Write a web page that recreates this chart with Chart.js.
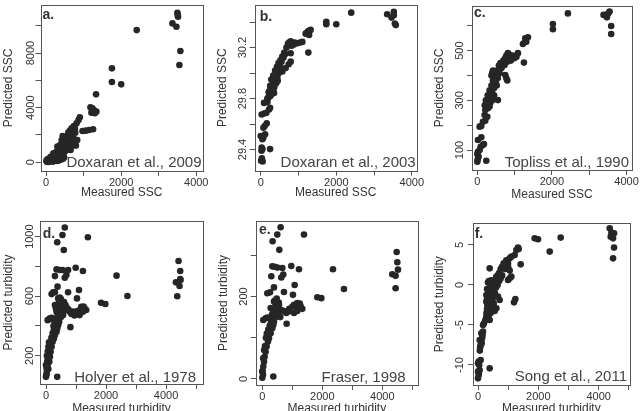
<!DOCTYPE html>
<html>
<head>
<meta charset="utf-8">
<script src="https://cdn.jsdelivr.net/npm/chart.js@4.4.1/dist/chart.umd.min.js"></script>
<style>
  html, body { margin: 0; padding: 0; background: #fff; overflow: hidden; }
  body { width: 642px; height: 411px; position: relative; }
  canvas { position: absolute; }
</style>
</head>
<body>
<canvas id="pa" width="214" height="205" style="left:0;top:0"></canvas>
<canvas id="pb" width="214" height="205" style="left:214px;top:0"></canvas>
<canvas id="pc" width="214" height="205" style="left:428px;top:0"></canvas>
<canvas id="pd" width="214" height="220" style="left:0;top:205px"></canvas>
<canvas id="pe" width="214" height="220" style="left:214px;top:205px"></canvas>
<canvas id="pf" width="214" height="220" style="left:428px;top:205px"></canvas>
<script>
// measured vs predicted, one array of [measured, predicted] per model
const panelA = [
  [2414,9683],[3366,10171],[3471,9927],[3498,10951],[3507,10780],[3515,10659],[3577,8146],[3551,7122],
  [1753,6878],[1753,5878],[2000,5707],[1330,4976],
  [1181,4024],[1233,3951],[1269,3829],[1207,3634],[1295,3585],[1339,3707],
  [1251,2415],[1145,2366],[1057,2317],[969,2293],
  [899,3293],[863,3098],[811,2854],[740,2659],[678,2488],[767,2488],[634,2317],[590,2171],
  [793,1220],[828,1634],[722,1878],[634,1756],[546,1829],[441,1927],[414,1634],[502,1439],[590,1341],[678,1146],
  [370,1268],[326,1024],[458,1024],[546,902],[282,780],[414,659],[194,659],[238,415],[150,415],[106,293],
  [62,171],[18,73],[35,122],[88,122],[150,171],[194,220],[282,293],[370,415],[458,537],[326,610],
  [238,220],[176,49],[62,24],[123,73],[502,780],[590,1024],[652,902],[722,1512],[300,1146],[388,1146],
  [476,1268],[529,1634],[617,2000],[678,2122],[775,2171],[705,2317],
  [20,30],[40,60],[80,200],[100,100],[130,250],[160,350],[200,450],[250,550],[280,500],[220,300],
  [120,400],[60,250],[30,200],[10,120],[300,100],[350,150],[400,200],[450,250],[250,120],[200,80],[480,350]
];
const panelB = [
  [2396,30.475],[3348,30.462],[3463,30.436],[3524,30.481],[3524,30.455],[3551,30.39],[3577,30.377],
  [1736,30.403],[1736,30.384],[2000,30.384],
  [1189,30.31],[1233,30.32],[1260,30.33],[1300,30.335],[1321,30.34],[1280,30.30],[1260,30.161],
  [749,30.24],[793,30.25],[850,30.235],[900,30.24],[970,30.235],[1040,30.24],[1101,30.245],[770,30.22],
  [820,30.215],[880,30.225],[720,30.23],[793,30.156],
  [176,29.80],[220,29.82],[264,29.83],[300,29.84],[335,29.87],[352,29.844],
  [264,29.883],[300,29.9],[350,29.92],[400,29.95],[440,29.97],[480,30.0],[529,30.04],
  [320,29.93],[370,29.96],[420,29.98],[460,30.02],[500,30.06],[550,30.09],[600,30.12],[650,30.15],
  [280,29.95],[330,29.98],[380,30.02],[430,30.05],[470,30.08],[520,30.1],[570,30.13],[620,30.16],[680,30.2],
  [573,30.013],[660,30.04],[740,30.07],[793,30.09],[250,29.9],[230,29.86],[210,29.85],[360,29.89],[410,29.92],[450,29.94],
  [10,29.311],[30,29.33],[50,29.306],[20,29.39],[45,29.403],[25,29.416],[247,29.403],[0,29.506],[70,29.494],
  [115,29.519],[45,29.481],[70,29.571],[105,29.584],[158,29.605],[25,29.675],[88,29.683],[150,29.688],
  [88,29.766],[176,29.774],[247,29.727],[220,29.714],[194,29.805],[247,29.818],[282,29.831]
];
const panelC = [
  [2429,650],[3384,644],[3473,634],[3545,657],[3500,648],[3589,599],[3589,567],[2027,607],[2027,586],
  [1250,452],[1223,527],[1268,534],[1313,536],[1286,550],[1357,554],
  [732,442],[800,455],[870,470],[950,480],[1089,490],[780,480],[820,490],[750,470],[900,460],[1000,470],
  [1050,475],[700,460],[850,485],[750,402],[780,389],[804,380],
  [0,53],[10,62],[36,73],[241,57],[18,93],[63,100],[0,84],[90,113],[18,140],[107,151],[152,120],[179,124],
  [63,194],[107,197],[152,214],[214,218],[196,241],[268,234],[214,261],[286,268],[330,275],
  [250,290],[300,300],[350,310],[400,330],[450,350],[500,370],[550,390],[600,410],[650,430],
  [200,280],[230,300],[280,320],[330,340],[380,360],[420,380],[480,400],[530,420],[580,440],[620,450],
  [350,290],[400,300],[450,320],[553,301],[520,360],[450,390],[400,410],[420,420],[380,400]
];
const panelD = [
  [626,1061],[549,1011],[374,962],[593,910],[1396,996],[989,791],[352,780],[462,776],[549,776],[736,776],
  [681,742],[626,724],[297,735],[1231,769],[2352,738],[2714,601],[1835,556],[1978,547],[385,664],[736,626],
  [1099,641],[187,614],[242,626],[297,626],[1033,585],[813,392],[374,58],
  [4418,836],[4473,769],[4473,715],[4330,693],[4484,709],[4451,668],[4374,599],
  [0,58],[22,80],[77,110],[0,137],[55,137],[110,159],[132,193],[154,226],[187,260],[220,294],[264,316],
  [297,339],[352,361],[374,383],[407,406],[440,428],[370,450],
  [55,439],[132,451],[187,455],[100,445],
  [30,100],[60,180],[90,220],[120,250],[150,280],[180,320],[220,350],[260,370],[300,390],[330,410],
  [360,430],[390,470],[410,490],[250,400],[280,430],
  [10,70],[20,120],[40,160],[30,200],[60,230],[80,260],[100,290],
  [462,540],[516,552],[571,529],[626,518],[681,507],[791,496],[901,496],[1011,484],[1121,473],[1231,496],
  [1286,518],[1341,507],[1176,529],[407,585],[440,563],[484,518],[549,496],[571,473],[297,540],[330,518],[352,496],
  [400,470],[430,500],[470,480],[500,460],[520,500],[560,540],[600,560],[650,540],[700,520],[750,510],
  [850,480],[950,470],[1050,500],[1150,510],[1250,530],[380,520],[420,550],[460,590],[500,580]
];
const panelE = [
  [611,368],[500,350],[344,334],[567,313],[1389,350],[967,274],[333,273],[411,272],[500,270],[667,269],
  [700,253],[633,246],[300,249],[1222,266],[2356,266],[2722,218],[1833,198],[1967,196],[389,222],[722,211],
  [1078,228],[167,208],[256,210],[1022,204],[811,134],[367,6],
  [4478,308],[4500,283],[4522,265],[4333,254],[4444,250],[4444,220],
  [0,3],[22,10],[0,18],[33,30],[56,42],[78,54],[111,66],[144,79],[189,91],[222,99],[278,111],[333,123],
  [367,131],[389,139],[33,143],[111,147],[167,149],
  [10,20],[30,50],[60,70],[90,80],[120,100],[150,110],[200,120],[250,130],[280,145],[320,155],[350,160],[300,140],
  [444,180],[500,172],[611,168],[722,164],[889,164],[1056,160],[1167,165],[1278,176],[1333,170],[389,188],
  [367,164],[278,172],[556,180],[1056,180],[1167,184],
  [400,155],[450,150],[520,160],[600,150],[700,165],[800,160],[900,170],[1000,175],[1100,178],[1250,183],
  [420,190],[480,195],[550,185]
];
const panelF = [
  [4365,7.08],[4420,6.54],[4398,6.04],[4475,5.83],[4508,6.46],[4508,4.67],[4475,3.33],[1878,5.83],[1989,5.71],
  [2740,5.92],[2376,4.17],[1414,2.58],
  [1326,4.67],[1348,4.5],[1271,4.38],[1215,3.75],[1105,3.54],[1050,3.33],[387,2.08],[939,3.1],[995,2.7],
  [884,2.5],[1050,0.83],[995,0.63],[1105,1.04],[1238,-1.75],[1193,-2.17],[663,-1.46],[718,-1.88],[608,-2.92],
  [552,-3.25],[387,-4.38],[387,-10.42],
  [0,-11.67],[22,-11.25],[0,-10.83],[55,-10.63],[22,-9.58],[88,-9.38],[0,-9.79],[88,-7.5],[110,-7.08],
  [133,-6.67],[55,-6.88],[110,-6.04],[166,-5.83],[199,-4.79],[166,-5.0],[243,-4.38],[276,-3.96],[309,-3.54],
  [331,-2.92],[309,-2.5],[276,-2.08],[331,-1.67],[387,-1.25],[276,-1.25],
  [30,-11.0],[60,-8.2],[70,-7.8],[120,-7.3],[40,-10.0],[150,-6.3],
  [280,-3.5],[300,-3.0],[320,-2.0],[350,-1.5],[380,-2.5],[400,-3.0],[420,-1.0],[450,-0.5],[480,0],[500,-1.5],
  [520,-0.8],[550,0.2],[580,0.5],[600,1.0],[650,1.2],[700,1.5],[750,2.0],[800,2.3],[850,2.7],[300,-0.5],
  [330,0.3],[360,0.5],[400,0.2],[440,0.6],[330,-3.8],[350,-4.0],[420,-3.5],[450,-2.5],[480,-2.0],[520,-2.3],
  [560,-1.0],[600,-0.3],[650,0],[700,0.5],[750,0.8],[800,1.2],[900,2.0],[1000,2.2],[1050,1.8],[380,-0.8],
  [420,-2.0],[460,-1.2],[500,0.5],[350,-3.2],[300,-1.8]
];

// tick marks and the ones that carry a label
const sscTicks = [0, 1000, 2000, 3000, 4000];
const sscLabels = [0, 2000, 4000];
const turbTicks = [0, 1000, 2000, 3000, 4000, 5000];
const turbLabels = [0, 2000, 4000];
const aTicks = [0, 2000, 4000, 6000, 8000, 10000];
const aLabels = [0, 4000, 8000];
const bTicks = [29.4, 29.6, 29.8, 30.0, 30.2, 30.4];
const bLabels = [29.4, 29.8, 30.2];
const cTicks = [100, 200, 300, 400, 500, 600];
const cLabels = [100, 300, 500];
const dTicks = [200, 400, 600, 800, 1000];
const dLabels = [200, 600, 1000];
const eTicks = [0, 100, 200, 300];
const eLabels = [0, 200];
const fTicks = [-10, -5, 0, 5];
const fLabels = [-10, -5, 0, 5];

const FONT = "'Liberation Sans', Arial, sans-serif";
const INK = '#262626';
const TEXT = '#333333';
const NOTE = '#444444';
const FRAME = '#555555';

const panels = [
  { id: 'pa', points: panelA, letter: 'a.', source: 'Doxaran et al., 2009', xTitle: 'Measured SSC', yTitle: 'Predicted SSC',
    xTicks: sscTicks, xLabels: sscLabels, yTicks: aTicks, yLabels: aLabels,
    xMin: -150, xMax: 4180, yMin: -640, yMax: 11520,
    box: { l: 40.5, r: 203, t: 5, b: 171 }, yGap: 7, yTitlePad: 1.1, xTitlePad: 4.8,
    letterX: 2, letterY: 13.5, sourceX: 1.5, sourceY: 4 },
  { id: 'pb', points: panelB, letter: 'b.', source: 'Doxaran et al., 2003', xTitle: 'Measured SSC', yTitle: 'Predicted SSC',
    xTicks: sscTicks, xLabels: sscLabels, yTicks: bTicks, yLabels: bLabels,
    xMin: -160, xMax: 4130, yMin: 29.235, yMax: 30.535,
    box: { l: 40.7, r: 202.7, t: 5, b: 170.5 }, yGap: 8.4, yTitlePad: 1.5, xTitlePad: 4.8,
    letterX: 5, letterY: 15.5, sourceX: 1, sourceY: 3.5 },
  { id: 'pc', points: panelC, letter: 'c.', source: 'Topliss et al., 1990', xTitle: 'Measured SSC', yTitle: 'Predicted SSC',
    xTicks: sscTicks, xLabels: sscLabels, yTicks: cTicks, yLabels: cLabels,
    xMin: -142, xMax: 4147, yMin: 19.5, yMax: 681,
    box: { l: 44, r: 204, t: 5.7, b: 170 }, yGap: 9, yTitlePad: 4.8, xTitlePad: 2.8,
    letterX: 2, letterY: 11.6, sourceX: 3, sourceY: 3 },
  { id: 'pd', points: panelD, letter: 'd.', source: 'Holyer et al., 1978', xTitle: 'Measured turbidity', yTitle: 'Predicted turbidity',
    xTicks: turbTicks, xLabels: turbLabels, yTicks: dTicks, yLabels: dLabels,
    xMin: -200, xMax: 5233, yMin: 10, yMax: 1105,
    box: { l: 40, r: 203, t: 16, b: 179 }, yGap: 6.7, yTitlePad: 1.1, xTitlePad: 9,
    letterX: 2.7, letterY: 16.7, sourceX: 7, sourceY: 2.5 },
  { id: 'pe', points: panelE, letter: 'e.', source: 'Fraser, 1998', xTitle: 'Measured turbidity', yTitle: 'Predicted turbidity',
    xTicks: turbTicks, xLabels: turbLabels, yTicks: eTicks, yLabels: eLabels,
    xMin: -220, xMax: 5190, yMin: -14.6, yMax: 383,
    box: { l: 41.7, r: 204, t: 16, b: 180 }, yGap: 8.4, yTitlePad: 2.8, xTitlePad: 9,
    letterX: 3.3, letterY: 13.3, sourceX: 12.3, sourceY: 3.5 },
  { id: 'pf', points: panelF, letter: 'f.', source: 'Song et al., 2011', xTitle: 'Measured turbidity', yTitle: 'Predicted turbidity',
    xTicks: turbTicks, xLabels: fLabels === null ? [] : turbLabels, yTicks: fTicks, yLabels: fLabels,
    xMin: -166, xMax: 5027, yMin: -12.5, yMax: 7.71,
    box: { l: 45, r: 201.7, t: 18.3, b: 180 }, yGap: 10, yTitlePad: 4.8, xTitlePad: 9,
    letterX: 1.7, letterY: 15, sourceX: 2.7, sourceY: 4 }
];

function hasLabel(list, v) {
  return list.some(l => Math.abs(l - v) < 1e-9);
}

// box, rotated y labels, panel letter and source text
function decorate(p) {
  return {
    id: 'decorate',
    afterDraw(chart) {
      const ctx = chart.ctx;
      const a = chart.chartArea;
      const ys = chart.scales.y;
      ctx.save();
      ctx.strokeStyle = FRAME;
      ctx.lineWidth = 1;
      const l = Math.round(a.left), t = Math.round(a.top);
      ctx.strokeRect(l + 0.5, t + 0.5, Math.round(a.right) - l, Math.round(a.bottom) - t);

      ctx.fillStyle = TEXT;
      ctx.font = '11px ' + FONT;
      ctx.textAlign = 'center';
      ctx.textBaseline = 'alphabetic';
      p.yLabels.forEach(v => {
        ctx.save();
        ctx.translate(a.left - p.yGap, ys.getPixelForValue(v));
        ctx.rotate(-Math.PI / 2);
        ctx.fillText(String(v), 0, 0);
        ctx.restore();
      });

      ctx.font = 'bold 14px ' + FONT;
      ctx.textAlign = 'left';
      ctx.fillText(p.letter, a.left + p.letterX, a.top + p.letterY);

      ctx.font = '15px ' + FONT;
      ctx.fillStyle = NOTE;
      ctx.textAlign = 'right';
      ctx.fillText(p.source, a.right - p.sourceX, a.bottom - p.sourceY);
      ctx.restore();
    }
  };
}

function makePanel(p) {
  const canvas = document.getElementById(p.id);
  const W = canvas.width, H = canvas.height;
  const tickGrid = { drawOnChartArea: false, drawTicks: true, tickLength: 5, color: FRAME, lineWidth: 1 };
  new Chart(canvas, {
    type: 'scatter',
    data: {
      datasets: [{
        data: p.points.map(pt => ({ x: pt[0], y: pt[1] })),
        pointRadius: 3.3,
        pointHoverRadius: 3.3,
        pointBackgroundColor: INK,
        pointBorderWidth: 0,
        borderWidth: 0
      }]
    },
    options: {
      responsive: false,
      animation: false,
      events: [],
      layout: { padding: { left: 0, top: p.box.t, right: W - p.box.r, bottom: 0 } },
      plugins: { legend: { display: false }, tooltip: { enabled: false } },
      scales: {
        x: {
          type: 'linear', position: 'bottom', bounds: 'data',
          min: p.xMin, max: p.xMax,
          afterBuildTicks: s => { s.ticks = p.xTicks.map(v => ({ value: v })); },
          afterFit: s => { s.height = H - p.box.b; },
          grid: tickGrid,
          border: { display: false },
          ticks: {
            autoSkip: false, maxRotation: 0, minRotation: 0, padding: 0.5,
            color: TEXT, font: { family: FONT, size: 11 },
            callback: v => hasLabel(p.xLabels, v) ? String(v) : ''
          },
          title: {
            display: true, text: p.xTitle, color: TEXT,
            font: { family: FONT, size: 12 },
            padding: { top: 0, bottom: p.xTitlePad }
          }
        },
        y: {
          type: 'linear', position: 'left', bounds: 'data',
          min: p.yMin, max: p.yMax,
          afterBuildTicks: s => { s.ticks = p.yTicks.map(v => ({ value: v })); },
          afterFit: s => { s.width = p.box.l; },
          grid: tickGrid,
          border: { display: false },
          ticks: { display: false },
          title: {
            display: true, text: p.yTitle, color: TEXT,
            font: { family: FONT, size: 12 },
            padding: { top: p.yTitlePad, bottom: 0 }
          }
        }
      }
    },
    plugins: [decorate(p)]
  });
}

panels.forEach(makePanel);
</script>
</body>
</html>
